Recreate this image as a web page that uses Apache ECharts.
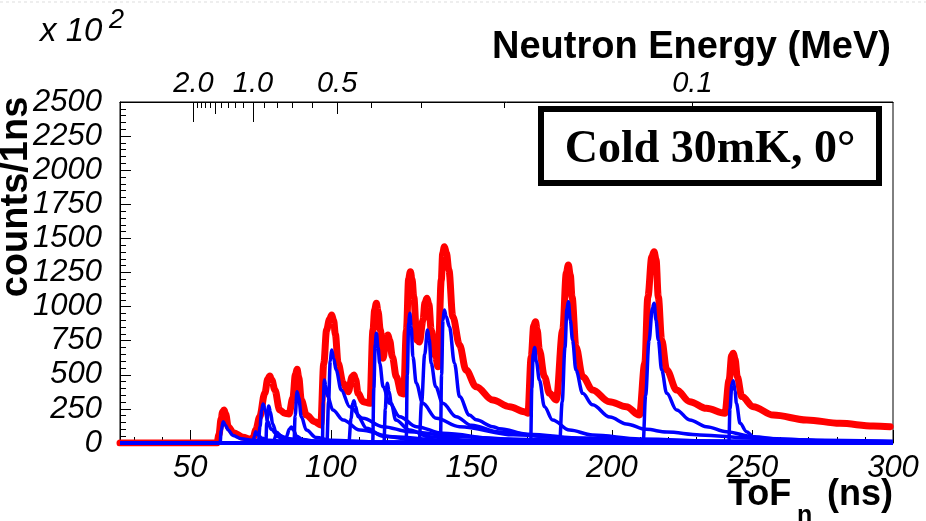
<!DOCTYPE html>
<html>
<head>
<meta charset="utf-8">
<script src="https://cdn.jsdelivr.net/npm/echarts@6/dist/echarts.min.js"></script>
<style>
html,body{margin:0;padding:0;background:#fff;}
#chart{width:926px;height:521px;}
</style>
</head>
<body>
<div id="chart"></div>
<script>
// ---------- data (ToF in ns, counts/1ns in units of 10^2) ----------
const redTotal = [[25,0],[59.5,0],[60.2,60],[61.0,180],[61.5,228],[62.0,242],[62.6,212],[63.5,120],[65.3,76],[68.8,42],[71.2,27],[72.4,40],[73.3,95],[74.7,193],[76.5,364],[77.6,470],[78.3,491],[79.0,462],[80.1,389],[81.8,242],[83.6,218],[85.1,213],[86.5,330],[87.4,500],[88.0,540],[88.6,478],[89.5,315],[91.3,205],[94.3,156],[96.4,132],[97.5,584],[98.5,828],[99.5,905],[100.3,938],[101.0,898],[101.6,800],[102.6,584],[104.4,438],[106.2,376],[107.6,485],[108.2,498],[108.8,468],[109.7,364],[111.5,303],[113.9,291],[115.0,828],[115.6,975],[116.2,1024],[116.8,965],[117.6,828],[118.6,621],[119.6,770],[120.3,792],[120.9,755],[121.9,633],[123.3,486],[125.1,364],[125.9,360],[126.9,828],[127.7,1205],[128.3,1256],[128.9,1200],[129.5,1073],[130.6,755],[131.5,740],[132.8,900],[133.5,1030],[134.2,1061],[134.9,1015],[135.7,828],[137.3,633],[138.1,559],[139.3,1195],[139.8,1390],[140.4,1439],[141.1,1395],[142.0,1268],[143.4,926],[145.8,718],[148.1,535],[151.7,413],[157.6,315],[163.6,266],[168.8,230],[170.1,218],[171.3,633],[172.2,860],[172.8,889],[173.4,830],[174.2,682],[176.0,486],[177.8,364],[180.2,315],[182.5,828],[183.8,1250],[184.5,1305],[185.2,1230],[185.8,1073],[187.2,706],[189.6,486],[193.1,389],[199.1,303],[205.1,266],[209.8,205],[211.7,584],[212.8,1073],[214.2,1365],[215.0,1402],[215.7,1345],[216.5,1073],[217.7,755],[219.5,535],[223.0,389],[227.7,303],[233.6,254],[240.2,218],[241.7,462],[242.6,640],[243.2,658],[243.8,615],[244.6,486],[246.2,340],[250.3,266],[257.4,205],[269.3,169],[281.1,144],[293.0,125],[299,120]];

const blue062 = [[25,0],[60.6,0],[61.0,90],[61.7,156],[62.5,130],[63.5,95],[65.2,55],[68,32],[72,20],[80,12],[95,6],[130,2],[300,0]];
const blue073 = [[25,0],[72.3,0],[72.8,50],[73.3,83],[74,60],[75.5,35],[78,20],[85,8],[100,3],[300,0]];
const blue076 = [[25,0],[74.2,0],[74.8,120],[75.4,240],[75.9,286],[76.6,250],[77.5,160],[78.8,100],[81,60],[85,30],[95,12],[120,4],[300,0]];
const blue078 = [[25,0],[76.9,0],[77.2,150],[77.9,271],[78.5,230],[79.3,140],[80.5,80],[83,40],[88,20],[100,8],[140,2],[300,0]];
const blue080 = [[25,0],[79.8,0],[80.1,40],[80.5,62],[81.2,45],[83,22],[88,10],[100,4],[300,0]];
const blue086 = [[25,0],[83.4,0],[84.3,50],[85.2,100],[86.0,118],[86.7,95],[87.8,50],[90,25],[95,12],[110,4],[300,0]];
const blue088 = [[25,0],[86.9,0],[87.3,200],[88.0,376],[88.6,330],[89.5,193],[91.3,95],[94.8,40],[100,20],[115,8],[150,3],[300,0]];
const blue098 = [[25,0],[97.0,0],[97.3,300],[97.7,462],[98.2,420],[98.9,340],[100.7,242],[104.4,169],[110.3,95],[122,46],[140,20],[170,8],[220,3],[300,0]];
const blue100 = [[25,0],[98.6,0],[99.2,300],[99.8,600],[100.3,682],[101.0,620],[101.9,535],[103.7,389],[106.7,266],[111.4,181],[118.6,120],[128,83],[145.8,46],[170,22],[210,9],[260,4],[300,2]];
const blue108 = [[25,0],[106.4,0],[107.2,180],[107.8,290],[108.2,310],[108.8,270],[109.7,193],[112.7,108],[118.6,50],[130,22],[150,9],[200,3],[300,0]];
const blue116 = [[25,0],[114.9,0],[115.3,400],[115.8,720],[116.2,804],[116.8,700],[117.4,584],[118.6,413],[120.9,291],[124.5,193],[130.4,120],[139.8,71],[160,30],[200,12],[250,5],[300,2]];
const blue120 = [[25,0],[118.9,0],[119.4,250],[119.8,400],[120.1,438],[120.7,380],[121.5,291],[123.1,169],[128,95],[135,46],[150,18],[190,6],[300,0]];
const blue128 = [[25,0],[126.8,0],[127.2,500],[127.7,880],[128.1,951],[128.6,850],[129.2,633],[130.4,438],[132.7,291],[137.5,181],[145.8,120],[165,60],[190,30],[230,12],[300,4]];
const blue134 = [[25,0],[131.4,0],[132.3,300],[133.4,650],[134.4,828],[135.0,760],[135.7,584],[137.3,413],[139.8,291],[144.6,193],[150,130],[160,80],[180,40],[210,18],[250,7],[300,2]];
const blue140 = [[25,0],[139.0,0],[139.4,500],[139.9,900],[140.4,975],[141.0,930],[142.2,853],[144.0,584],[145.8,340],[149.3,205],[151.7,170],[157.6,120],[160,105],[170,65],[190,35],[220,18],[260,8],[300,4]];
const blue172 = [[25,0],[171.1,0],[171.5,400],[172.0,650],[172.5,701],[173.1,600],[174.2,462],[176.0,266],[178.9,169],[184.9,95],[193.1,59],[210,30],[240,12],[300,4]];
const blue184 = [[25,0],[181.4,0],[182.3,300],[183.3,700],[184.0,980],[184.5,1036],[185.2,900],[186.0,755],[187.2,535],[189.6,364],[193.1,280],[199.3,190],[205.1,140],[212.2,100],[219.5,80],[231.3,59],[250,35],[275,20],[300,12]];
const blue215 = [[25,0],[211.1,0],[212.0,350],[213.2,750],[214.4,990],[215.0,1024],[215.7,900],[216.5,755],[217.7,535],[219.5,364],[223.0,242],[227.7,169],[233.6,120],[240.7,83],[250.3,46],[260,28],[280,15],[300,10]];
const blue243 = [[25,0],[241.6,0],[242.0,250],[242.7,430],[243.2,457],[243.8,380],[244.3,291],[245.6,144],[247.9,83],[250.3,46],[253,20],[255.5,5],[257,0],[300,0]];

const blueComponents = [blue062, blue073, blue076, blue078, blue080, blue086, blue088, blue098, blue100, blue108, blue116, blue120, blue128, blue134, blue140, blue172, blue184, blue215, blue243];

// axis ticks
const tofMajorTicks = [50, 100, 150, 200, 250, 300];
const tofMinorTicks = [30,40,60,70,80,90,110,120,130,140,160,170,180,190,210,220,230,240,260,270,280,290];
const energyLabels = [2.0, 1.0, 0.5, 0.1];
const energyLabelText = ['2.0', '1.0', '0.5', '0.1'];
const energyLongTicks = [2.0, 1.0];
const energyMidTicks = [1.5, 0.5];
const energyShortTicks = [1.9,1.8,1.7,1.6,1.4,1.3,1.2,1.1,0.9,0.8,0.7,0.6,0.4,0.3,0.2,0.1];

// ToF (ns) for a neutron energy (MeV) over a 1 m flight path
const flightPathM = 1.0;
const neutronMassMeV = 939.565;
const cMperNs = 0.299792458;
function tofOf(E) { return flightPathM / cMperNs * Math.sqrt(neutronMassMeV / (2 * E)); }

const FONT = 'Liberation Sans';
const chart = echarts.init(document.getElementById('chart'), null, {renderer: 'canvas'});

const baseX = {type: 'value', min: 25, max: 300, gridIndex: 0, splitLine: {show: false}};
const topTickAxis = (vals, len) => Object.assign({}, baseX, {
  position: 'top',
  axisLine: {show: false},
  axisTick: {show: true, inside: true, length: len, customValues: vals.map(tofOf), lineStyle: {color: '#000', width: 1}},
  axisLabel: {show: false}
});

const series = [{
  type: 'line', name: 'total', data: redTotal, xAxisIndex: 0, yAxisIndex: 0,
  showSymbol: false, symbol: 'none', smooth: 0.35, smoothMonotone: 'x',
  lineStyle: {color: '#ff0000', width: 7, join: 'round', cap: 'round'}, z: 2
}];
blueComponents.forEach((d, i) => {
  series.push({
    type: 'line', name: 'c' + i, data: d, xAxisIndex: 0, yAxisIndex: 0,
    showSymbol: false, symbol: 'none', smooth: 0.35, smoothMonotone: 'x',
    lineStyle: {color: '#0000ff', width: 3.5, join: 'round'}, z: 3
  });
});

chart.setOption({
  animation: false,
  backgroundColor: '#ffffff',
  grid: {left: 120, right: 33, top: 102, bottom: 78, show: true, borderColor: '#000', borderWidth: 1, backgroundColor: 'transparent'},
  xAxis: [
    Object.assign({}, baseX, {
      position: 'bottom',
      axisLine: {show: true, lineStyle: {color: '#000', width: 1}},
      axisTick: {show: true, inside: true, length: 13, customValues: tofMajorTicks, lineStyle: {color: '#000', width: 1}},
      axisLabel: {show: true, customValues: tofMajorTicks, color: '#000', fontSize: 31, fontStyle: 'italic', fontFamily: FONT, margin: 10,
        formatter: v => String(v)}
    }),
    Object.assign({}, baseX, {
      position: 'bottom',
      axisLine: {show: false},
      axisTick: {show: true, inside: true, length: 6, customValues: tofMinorTicks, lineStyle: {color: '#000', width: 1}},
      axisLabel: {show: false}
    }),
    Object.assign({}, baseX, {
      position: 'top',
      axisLine: {show: true, lineStyle: {color: '#000', width: 1}},
      axisTick: {show: true, inside: true, length: 20, customValues: energyLongTicks.map(tofOf), lineStyle: {color: '#000', width: 1}},
      axisLabel: {show: true, customValues: energyLabels.map(tofOf), color: '#000', fontSize: 29, fontStyle: 'italic', fontFamily: FONT, margin: 4,
        formatter: function (v) {
          for (let i = 0; i < energyLabels.length; i++) { if (Math.abs(tofOf(energyLabels[i]) - v) < 1e-6) return energyLabelText[i]; }
          return '';
        }}
    }),
    topTickAxis(energyMidTicks, 12),
    topTickAxis(energyShortTicks, 6)
  ],
  yAxis: [{
    type: 'value', min: 0, max: 2500, interval: 250, position: 'left',
    axisLine: {show: true, lineStyle: {color: '#000', width: 1}},
    axisTick: {show: true, inside: true, length: 11, lineStyle: {color: '#000', width: 1}},
    minorTick: {show: true, splitNumber: 5, length: 6, lineStyle: {color: '#000', width: 1}},
    axisLabel: {color: '#000', fontSize: 31, fontStyle: 'italic', fontFamily: FONT, margin: 18, formatter: v => String(v)},
    splitLine: {show: false}
  }],
  series: series,
  graphic: [
    {type: 'line', shape: {x1: 0, y1: 2, x2: 926, y2: 2}, style: {stroke: '#dddddd', lineWidth: 1, lineDash: [3, 3]}, silent: true},
    {type: 'text', x: 40, y: 32, style: {text: 'x 10', fontFamily: FONT, fontStyle: 'italic', fontSize: 33, fill: '#000', textAlign: 'left', textVerticalAlign: 'middle'}},
    {type: 'text', x: 109, y: 20, style: {text: '2', fontFamily: FONT, fontStyle: 'italic', fontSize: 27, fill: '#000', textAlign: 'left', textVerticalAlign: 'middle'}},
    {type: 'text', x: 891, y: 48, style: {text: 'Neutron Energy (MeV)', fontFamily: FONT, fontWeight: 'bold', fontSize: 38, fill: '#000', textAlign: 'right', textVerticalAlign: 'middle'}},
    {type: 'text', x: 17, y: 197, rotation: Math.PI / 2, style: {text: 'counts/1ns', fontFamily: FONT, fontWeight: 'bold', fontSize: 38, fill: '#000', textAlign: 'center', textVerticalAlign: 'middle'}},
    {type: 'text', x: 728, y: 495, style: {text: 'ToF', fontFamily: FONT, fontWeight: 'bold', fontSize: 36, fill: '#000', textAlign: 'left', textVerticalAlign: 'middle'}},
    {type: 'text', x: 797, y: 516, style: {text: 'n', fontFamily: FONT, fontWeight: 'bold', fontSize: 25, fill: '#000', textAlign: 'left', textVerticalAlign: 'middle'}},
    {type: 'text', x: 893, y: 495, style: {text: '(ns)', fontFamily: FONT, fontWeight: 'bold', fontSize: 36, fill: '#000', textAlign: 'right', textVerticalAlign: 'middle'}},
    {type: 'rect', shape: {x: 541, y: 109, width: 338, height: 74}, style: {fill: '#fff', stroke: '#000', lineWidth: 6}, z: 100},
    {type: 'text', x: 710, y: 150, z: 101, style: {text: 'Cold 30mK, 0°', fontFamily: 'Liberation Serif', fontWeight: 'bold', fontSize: 46, fill: '#000', textAlign: 'center', textVerticalAlign: 'middle'}}
  ]
});
</script>
</body>
</html>
